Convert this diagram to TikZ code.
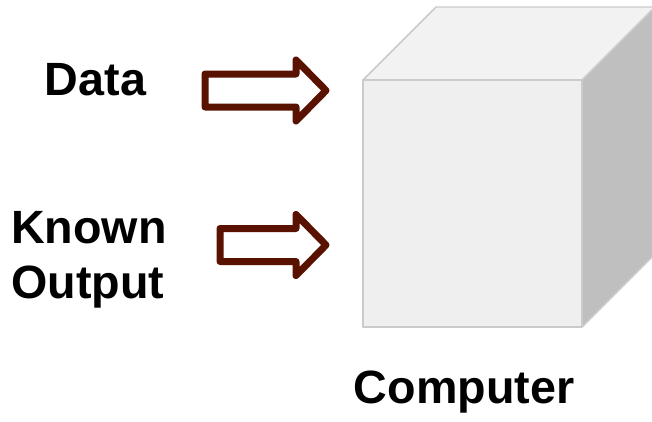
\documentclass[tikz,border=0pt]{standalone}
\usepackage{fontspec}
\setmainfont{Liberation Sans}
\definecolor{arrowred}{HTML}{5A1200}
\definecolor{cubeedge}{HTML}{CBCBCB}
\definecolor{cubefront}{HTML}{EFEFEF}
\definecolor{cubetop}{HTML}{F2F2F2}
\definecolor{cubeside}{HTML}{BFBFBF}
\tikzset{
	label/.style={inner sep=0pt, font=\fontsize{35}{41.25}\selectfont\bfseries},
	fatarrow/.style={draw=arrowred, fill=white, line width=5.25pt, line join=round},
	face/.style={draw=cubeedge, line width=1.1pt, line join=round}
}

\begin{document}
\begin{tikzpicture}[x=0.75pt, y=-0.75pt]
	\useasboundingbox (0,0) rectangle (652,421);
	
	% labels
	\node[label, anchor=base] (data) at (95.5,95) {Data};
	\node[label, anchor=base west, align=left] (known) at (11,298) {Known\\Output};
	\node[label, anchor=base] (computer) at (464,403) {Computer};
	
	% arrows: tail x / centre y
	\foreach \tx/\cy [count=\i] in {205/90.5, 220/245} {
		\draw[fatarrow] (\tx,\cy-16.5) -- (296,\cy-16.5) -- (296,\cy-30.5)
			-- (326,\cy) coordinate (tip\i) -- (296,\cy+30.5) -- (296,\cy+16.5)
			-- (\tx,\cy+16.5) -- cycle;
	}
	
	% the cube
	\coordinate (fa) at (363,80);
	\coordinate (fb) at (582,80);
	\coordinate (fc) at (582,327);
	\coordinate (fd) at (363,327);
	\coordinate (ba) at (436,7);
	\coordinate (bb) at (655,7);
	\coordinate (bc) at (655,254);
	
	\draw[face, fill=cubeside] (fb) -- (bb) -- (bc) -- (fc) -- cycle;
	\draw[face, fill=cubetop] (fa) -- (ba) -- (bb) -- (fb) -- cycle;
	\draw[face, fill=cubefront] (fa) -- (fb) -- (fc) -- (fd) -- cycle;
\end{tikzpicture}
\end{document}
